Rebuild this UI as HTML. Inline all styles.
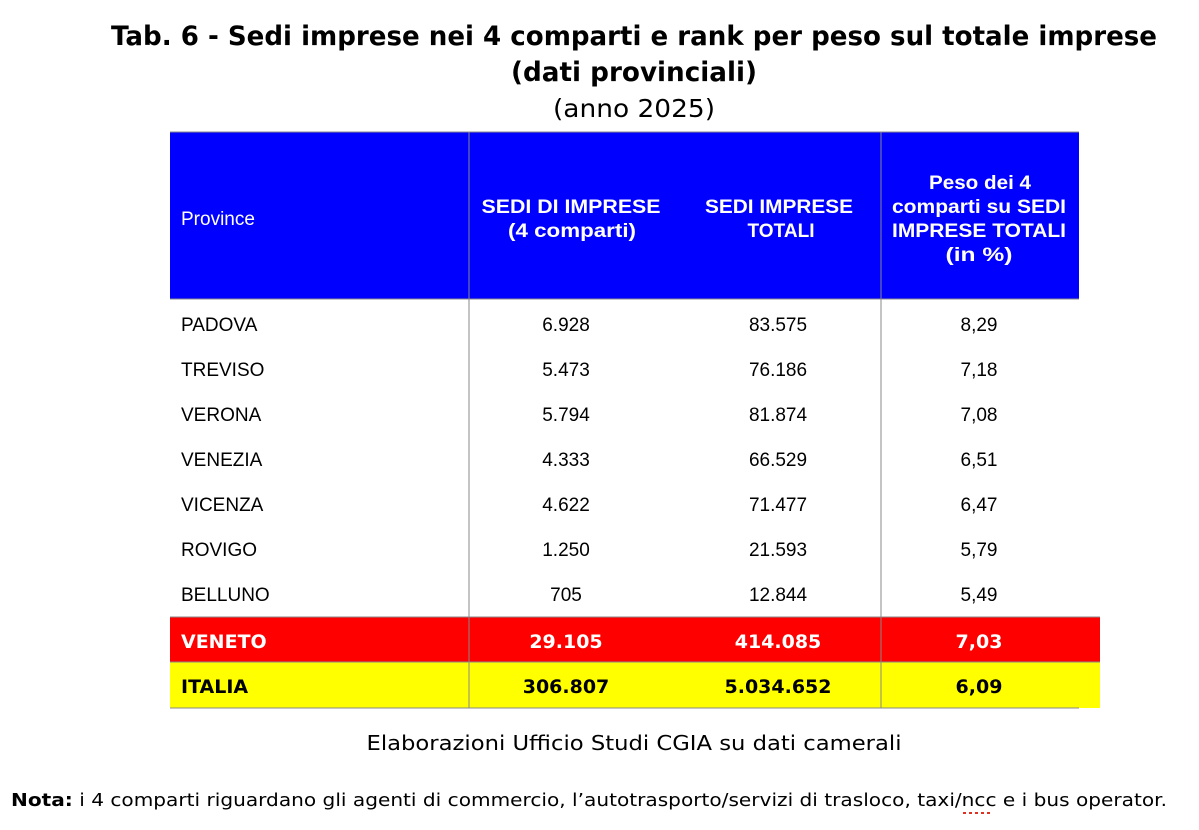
<!DOCTYPE html>
<html><head><meta charset="utf-8"><style>body{margin:0;background:#fff}svg{display:block}</style></head><body>
<svg width="1199" height="830" xmlns="http://www.w3.org/2000/svg" font-family="'DejaVu Sans','Liberation Sans',sans-serif">
<text x="634" y="45" text-anchor="middle" font-weight="bold" font-size="27" textLength="1046" lengthAdjust="spacingAndGlyphs">Tab. 6 - Sedi imprese nei 4 comparti e rank per peso sul totale imprese</text>
<text x="634" y="81" text-anchor="middle" font-weight="bold" font-size="27" textLength="246" lengthAdjust="spacingAndGlyphs">(dati provinciali)</text>
<text x="634" y="117" text-anchor="middle" font-size="25" textLength="162" lengthAdjust="spacingAndGlyphs">(anno 2025)</text>
<rect x="170" y="132" width="909" height="167" fill="#0000ff"/>
<line x1="170" y1="132" x2="1079" y2="132" stroke="#888"/>
<line x1="469" y1="132" x2="469" y2="617" stroke="#888"/>
<line x1="881" y1="132" x2="881" y2="617" stroke="#888"/>
<line x1="170" y1="299" x2="1079" y2="299" stroke="#888"/>
<g font-family="'Liberation Sans',sans-serif" fill="#fff" font-size="19">
<text x="181" y="225">Province</text>
<g font-weight="bold" text-anchor="middle" lengthAdjust="spacingAndGlyphs">
<text x="571" y="213" textLength="179" lengthAdjust="spacingAndGlyphs">SEDI DI IMPRESE</text><text x="572" y="237" textLength="128" lengthAdjust="spacingAndGlyphs">(4 comparti)</text>
<text x="779" y="213" textLength="148" lengthAdjust="spacingAndGlyphs">SEDI IMPRESE</text><text x="781" y="237" textLength="67" lengthAdjust="spacingAndGlyphs">TOTALI</text>
<text x="980" y="189" textLength="102" lengthAdjust="spacingAndGlyphs">Peso dei 4</text><text x="979" y="213" textLength="174" lengthAdjust="spacingAndGlyphs">comparti su SEDI</text><text x="979" y="237" textLength="174" lengthAdjust="spacingAndGlyphs">IMPRESE TOTALI</text><text x="979" y="261" textLength="67" lengthAdjust="spacingAndGlyphs">(in %)</text>
</g></g>
<g font-family="'Liberation Sans',sans-serif" font-size="19" fill="#000">
<g><text x="181" y="331">PADOVA</text><text x="181" y="376">TREVISO</text><text x="181" y="421">VERONA</text><text x="181" y="466">VENEZIA</text><text x="181" y="511">VICENZA</text><text x="181" y="556">ROVIGO</text><text x="181" y="601">BELLUNO</text></g>
<g text-anchor="middle">
<text x="566" y="331">6.928</text><text x="778" y="331">83.575</text><text x="979" y="331">8,29</text>
<text x="566" y="376">5.473</text><text x="778" y="376">76.186</text><text x="979" y="376">7,18</text>
<text x="566" y="421">5.794</text><text x="778" y="421">81.874</text><text x="979" y="421">7,08</text>
<text x="566" y="466">4.333</text><text x="778" y="466">66.529</text><text x="979" y="466">6,51</text>
<text x="566" y="511">4.622</text><text x="778" y="511">71.477</text><text x="979" y="511">6,47</text>
<text x="566" y="556">1.250</text><text x="778" y="556">21.593</text><text x="979" y="556">5,79</text>
<text x="566" y="601">705</text><text x="778" y="601">12.844</text><text x="979" y="601">5,49</text>
</g></g>
<rect x="170" y="617" width="930" height="45" fill="#ff0000"/>
<rect x="170" y="662" width="930" height="46" fill="#ffff00"/>
<line x1="170" y1="617" x2="1100" y2="617" stroke="#888"/>
<line x1="170" y1="662" x2="1100" y2="662" stroke="#888"/>
<line x1="170" y1="708" x2="1079" y2="708" stroke="#888"/>
<line x1="469" y1="617" x2="469" y2="708" stroke="#888"/>
<line x1="881" y1="617" x2="881" y2="708" stroke="#888"/>
<g font-family="'DejaVu Sans','Liberation Sans',sans-serif" font-size="19" font-weight="bold">
<g fill="#fff"><text x="181" y="648">VENETO</text><text x="566" y="648" text-anchor="middle">29.105</text><text x="778" y="648" text-anchor="middle">414.085</text><text x="979" y="648" text-anchor="middle">7,03</text></g>
<g fill="#000"><text x="181" y="693">ITALIA</text><text x="566" y="693" text-anchor="middle">306.807</text><text x="778" y="693" text-anchor="middle">5.034.652</text><text x="979" y="693" text-anchor="middle">6,09</text></g>
</g>
<text x="634" y="750" text-anchor="middle" font-size="20" textLength="535" lengthAdjust="spacingAndGlyphs">Elaborazioni Ufficio Studi CGIA su dati camerali</text>
<text x="11" y="806" font-size="17.5" textLength="1156" lengthAdjust="spacingAndGlyphs"><tspan font-weight="bold">Nota:</tspan> i 4 comparti riguardano gli agenti di commercio, l’autotrasporto/servizi di trasloco, taxi/ncc e i bus operator.</text>
<line x1="963" y1="813" x2="990" y2="813" stroke="#e03020" stroke-width="2" stroke-dasharray="3,3"/>
</svg>
</body></html>
